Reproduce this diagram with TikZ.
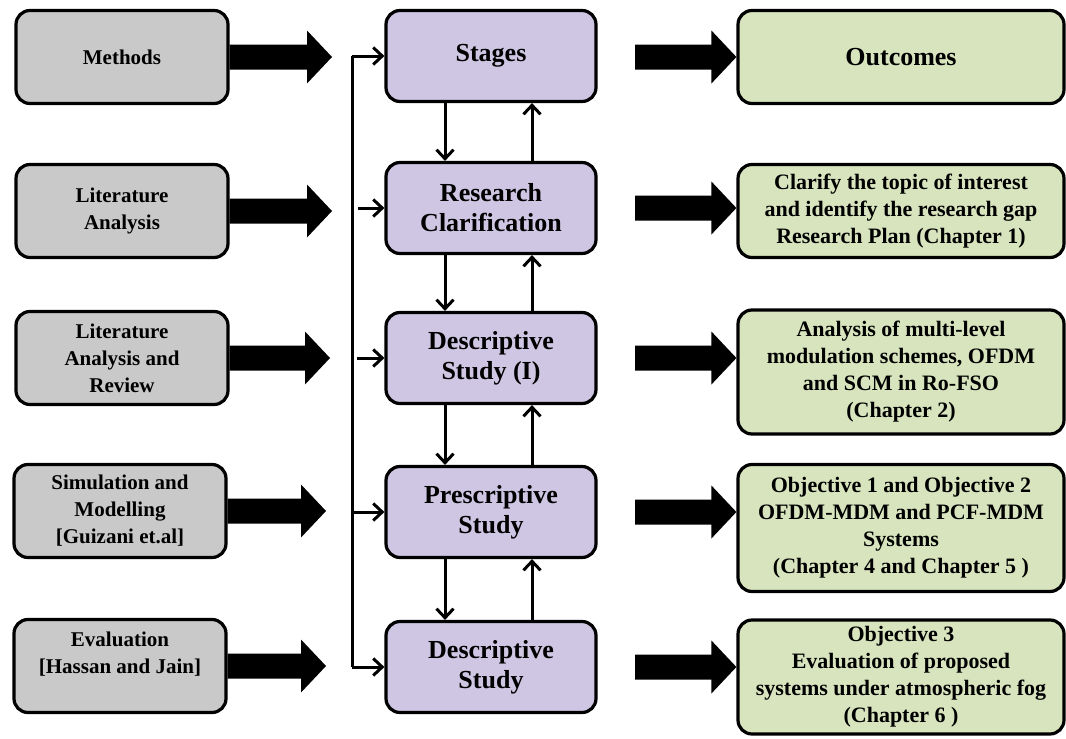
\documentclass[tikz,border=0pt]{standalone}
\usepackage{fontspec}
\setmainfont{Liberation Serif}
\usetikzlibrary{arrows.meta,calc}

\definecolor{methodgray}{HTML}{C9C9C9}
\definecolor{stagelilac}{HTML}{CEC6E2}
\definecolor{outcomegreen}{HTML}{D8E4BE}

% broad block arrow from a start point (#1) to a tip point (#2)
\newcommand\fatarrow[2]{%
  \fill[black] ($(#1)+(0,-12.5)$) -- ($(#2)+(-25,-12.5)$) -- ($(#2)+(-25,-26.5)$)
    -- (#2) -- ($(#2)+(-25,26.5)$) -- ($(#2)+(-25,12.5)$) -- ($(#1)+(0,12.5)$) -- cycle;}

\begin{document}
\begin{tikzpicture}[x=1pt,y=-1pt,
  box/.style={draw=black, line width=3.2pt, rounded corners=14pt, align=center, inner sep=2pt},
  methodbox/.style={box, fill=methodgray, minimum width=212pt, minimum height=93pt,
    font=\fontsize{21}{27}\selectfont\bfseries},
  stagebox/.style={box, fill=stagelilac, minimum width=210pt, minimum height=91pt,
    font=\fontsize{26}{30}\selectfont\bfseries},
  outbox/.style={box, fill=outcomegreen, minimum width=326pt,
    font=\fontsize{22}{27}\selectfont\bfseries},
  link/.style={line width=3pt, -{Straight Barb[length=9pt,width=17pt]}},
  busline/.style={line width=3pt},
]
\fill[white] (0,0) rectangle (1066,739);
\useasboundingbox (0,0) rectangle (1066,739);

% methods column
\node[methodbox] (m1) at (122,57)  {Methods};
\node[methodbox] (m2) at (122,211) {Literature\\Analysis};
\node[methodbox] (m3) at (122,358) {Literature\\Analysis and\\Review};
\node[methodbox] (m4) at (120,511) {Simulation and\\Modelling\\{[}Guizani et.al{]}};
\node[methodbox] (m5) at (120,666) {Evaluation\\{[}Hassan and Jain{]}\\\mbox{}};

% stages column
\node[stagebox] (s1) at (491,56)  {Stages};
\node[stagebox] (s2) at (491,208) {Research\\Clarification};
\node[stagebox] (s3) at (491,358) {Descriptive\\Study (I)};
\node[stagebox] (s4) at (491,512) {Prescriptive\\Study};
\node[stagebox] (s5) at (491,667) {Descriptive\\Study};

% outcomes column
\node[outbox, minimum height=93pt, font=\fontsize{26}{30}\selectfont\bfseries] (o1) at (901,57) {Outcomes};
\node[outbox, minimum height=93pt]  (o2) at (901,211) {Clarify the topic of interest\\and identify the research gap\\Research Plan (Chapter 1)};
\node[outbox, minimum height=124pt] (o3) at (901,372) {Analysis of multi-level\\modulation schemes, OFDM\\and SCM in Ro-FSO\\(Chapter 2)};
\node[outbox, minimum height=127pt] (o4) at (901,528) {Objective 1 and Objective 2\\OFDM-MDM and PCF-MDM\\Systems\\(Chapter 4 and Chapter 5 )};
\node[outbox, minimum height=114pt] (o5) at (901,677) {Objective 3\\Evaluation of proposed\\systems under atmospheric fog\\(Chapter 6 )};

% block arrows from methods
\coordinate (mt1) at (332,57);
\coordinate (mt2) at (332,211);
\coordinate (mt3) at (330,358);
\coordinate (mt4) at (326,511);
\coordinate (mt5) at (326,666);
\fatarrow{m1.east}{mt1}
\fatarrow{m2.east}{mt2}
\fatarrow{m3.east}{mt3}
\fatarrow{m4.east}{mt4}
\fatarrow{m5.east}{mt5}

% block arrows into outcomes
\coordinate (ot1) at (635,57);
\coordinate (ot2) at (635,208);
\coordinate (ot3) at (635,358);
\coordinate (ot4) at (635,512);
\coordinate (ot5) at (635,667);
\fatarrow{ot1}{o1.west}
\fatarrow{ot2}{o2.west |- ot2}
\fatarrow{ot3}{o3.west |- ot3}
\fatarrow{ot4}{o4.west |- ot4}
\fatarrow{ot5}{o5.west |- ot5}

% feed line into every stage
\coordinate (bus) at (352,0);
\draw[busline] (bus |- s1.west) -- (bus |- s5.west);
\draw[link] (bus |- s1.west) -- (s1.west);
\draw[link] ([xshift=6pt]bus |- s2.west) -- (s2.west);
\draw[link] ([xshift=5pt]bus |- s3.west) -- (s3.west);
\draw[link] (bus |- s4.west) -- (s4.west);
\draw[link] (bus |- s5.west) -- (s5.west);

% iteration between stages
\draw[link] ([xshift=-46pt]s1.south) -- ([xshift=-46pt]s2.north);
\draw[link] ([xshift=41pt]s2.north) -- ([xshift=41pt]s1.south);
\draw[link] ([xshift=-46pt]s2.south) -- ([xshift=-46pt]s3.north);
\draw[link] ([xshift=41pt]s3.north) -- ([xshift=41pt]s2.south);
\draw[link] ([xshift=-46pt]s3.south) -- ([xshift=-46pt]s4.north);
\draw[link] ([xshift=41pt]s4.north) -- ([xshift=41pt]s3.south);
\draw[link] ([xshift=-46pt]s4.south) -- ([xshift=-46pt]s5.north);
\draw[link] ([xshift=41pt]s5.north) -- ([xshift=41pt]s4.south);
\end{tikzpicture}
\end{document}
